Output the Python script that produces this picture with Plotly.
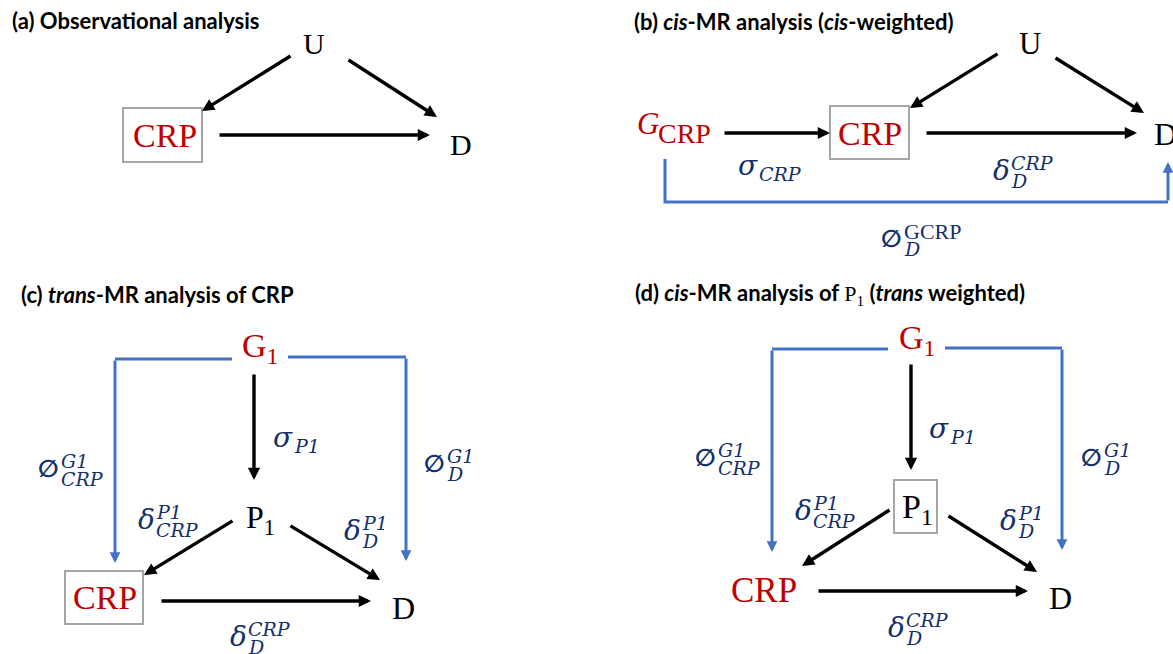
import plotly.graph_objects as go

W, H = 1173, 654

# ---------------- text content ----------------
panel_titles = [
    "<b>(a) Observational analysis</b>",
    "<b>(b) <i>cis</i>-MR analysis (<i>cis</i>-weighted)</b>",
    "<b>(c) <i>trans</i>-MR analysis of CRP</b>",
    '<b>(d) <i>cis</i>-MR analysis of </b><span style="font-family:Liberation Serif">P<sub>1</sub></span><b> (<i>trans</i> weighted)</b>',
]

# node labels for each panel: (label, is_exposure)
nodes_a = [("U", False), ("CRP", True), ("D", False)]
nodes_b = [("U", False), ("CRP", True), ("D", False)]
nodes_c = [("G<sub>1</sub>", True), ("P<sub>1</sub>", False), ("CRP", True), ("D", False)]
nodes_d = [("G<sub>1</sub>", True), ("P<sub>1</sub>", False), ("CRP", True), ("D", False)]
instrument_b = ("G", "CRP")   # italic G with upright subscript

# path-coefficient labels: (symbol, superscript, subscript)
coef_b = [("σ", None, "CRP"), ("δ", "CRP", "D"), ("∅", "GCRP", "D")]
coef_c = [("σ", None, "P1"), ("∅", "G1", "CRP"), ("∅", "G1", "D"),
          ("δ", "P1", "CRP"), ("δ", "P1", "D"), ("δ", "CRP", "D")]
coef_d = [("σ", None, "P1"), ("∅", "G1", "CRP"), ("∅", "G1", "D"),
          ("δ", "P1", "CRP"), ("δ", "P1", "D"), ("δ", "CRP", "D")]
upright_scripts = {"GCRP"}

# ---------------- layout geometry (pixels) ----------------
RED, NAVY, BLUE, GREY = "#C00000", "#152F6B", "#4472C4", "#A6A6A6"
SERIF, SANS, MATH = "Liberation Serif", "Lato", "DejaVu Serif"

title_pos = [(10, 20), (632, 21), (19, 294), (633, 294)]

node_pos_a = [(314, 43, 30), (165, 135, 34), (461, 144, 30)]
node_pos_b = [(1030, 43, 31), (870, 133, 34), (1165, 134, 32)]
node_pos_c = [(260, 348, 34), (260, 519, 32), (105, 597, 34), (403, 608, 32)]
node_pos_d = [(917, 340, 34), (917, 509, 34), (764, 590, 35), (1060, 598, 32)]
instrument_b_pos = ((648, 123, 31), (684, 133, 28))

boxes = [(123, 108, 202, 162), (830, 106, 909, 159), (65, 571, 143, 624), (894, 480, 937, 533)]

black_arrows = [
    ((292, 55), (202, 111)), ((347, 59), (437, 117)), ((218, 135), (430, 135)),
    ((723, 133), (830, 133)), ((999, 53), (910, 108)), ((1054, 57), (1144, 113)), ((925, 133), (1137, 133)),
    ((254, 373), (254, 480)), ((234, 520), (144, 575)), ((289, 525), (380, 580)), ((160, 601), (371, 601)),
    ((911, 363), (911, 470)), ((891, 509), (802, 566)), ((947, 515), (1037, 572)), ((817, 591), (1028, 591)),
]
blue_paths = [
    [(665, 159), (665, 202), (1168, 202), (1168, 162)],
    [(232, 359), (115, 359), (115, 563)],
    [(288, 357), (406, 357), (406, 561)],
    [(888, 349), (772, 349), (772, 552)],
    [(945, 348), (1062, 348), (1062, 550)],
]

# (junction x, baseline y) for each coefficient label
coef_pos_b = [(758, 175), (1010, 180), (903, 248)]
coef_pos_c = [(293, 447), (60, 478), (446, 473), (155, 529), (361, 540), (247, 646)]
coef_pos_d = [(949, 438), (717, 467), (1103, 467), (812, 520), (1017, 530), (905, 637)]

MAIN_SIZE, SCRIPT_SIZE, EMPTY_SIZE = 28, 19, 24

# ---------------- build figure ----------------
fig = go.Figure()
ann = []
shapes = []


def text(x, y, s, size, color="black", family=SERIF, xanchor="center"):
    ann.append(dict(x=x, y=y, xref="x", yref="y", text=s, showarrow=False,
                    xanchor=xanchor, yanchor="middle",
                    font=dict(family=family, size=size, color=color)))


for t, (x, y) in zip(panel_titles, title_pos):
    text(x, y, t, 22, family=SANS, xanchor="left")

for nodes, pos in [(nodes_a, node_pos_a), (nodes_b, node_pos_b), (nodes_c, node_pos_c), (nodes_d, node_pos_d)]:
    for (lab, red), (x, y, sz) in zip(nodes, pos):
        text(x, y, lab, sz, RED if red else "black")

(gx, gy, gs), (sx, sy, ss) = instrument_b_pos
text(gx, gy, "<i>" + instrument_b[0] + "</i>", gs, RED)
text(sx, sy, instrument_b[1], ss, RED)

for x0, y0, x1, y1 in boxes:
    shapes.append(dict(type="rect", xref="x", yref="y", x0=x0, y0=y0, x1=x1, y1=y1,
                       line=dict(color=GREY, width=2), fillcolor="rgba(0,0,0,0)", layer="below"))


def coef(jx, base, sym, sup, sub):
    if sym == "∅":
        text(jx + 1, base - 0.36 * EMPTY_SIZE, "<b>" + sym + "</b>", EMPTY_SIZE, NAVY,
             family="DejaVu Sans", xanchor="right")
    else:
        text(jx + 2, base - 0.35 * MAIN_SIZE, "<i>" + sym + "</i>", MAIN_SIZE, NAVY, family=MATH, xanchor="right")
    if sup is not None:
        s = sup if sup in upright_scripts else "<i>" + sup + "</i>"
        fam = SERIF if sup in upright_scripts else MATH
        sz = SCRIPT_SIZE + 3 if sup in upright_scripts else SCRIPT_SIZE
        text(jx - 1, base - 17, s, sz, NAVY, family=fam, xanchor="left")
        text(jx - 1, base + 1, "<i>" + sub + "</i>", SCRIPT_SIZE, NAVY, family=MATH, xanchor="left")
    else:
        text(jx - 1, base - 1, "<i>" + sub + "</i>", SCRIPT_SIZE, NAVY, family=MATH, xanchor="left")


for labs, pos in [(coef_b, coef_pos_b), (coef_c, coef_pos_c), (coef_d, coef_pos_d)]:
    for (sym, sup, sub), (jx, base) in zip(labs, pos):
        coef(jx, base, sym, sup, sub)


def arrow(tail, tip, color, width, size):
    ann.append(dict(x=tip[0], y=tip[1], ax=tail[0], ay=tail[1], xref="x", yref="y",
                    axref="x", ayref="y", text="", showarrow=True, arrowhead=2,
                    arrowsize=size, arrowwidth=width, arrowcolor=color, standoff=0))


for tail, tip in black_arrows:
    arrow(tail, tip, "black", 3.4, 0.72)

for pts in blue_paths:
    d = "M " + " L ".join(f"{x},{y}" for x, y in pts[:-1])
    shapes.append(dict(type="path", xref="x", yref="y", path=d,
                       line=dict(color=BLUE, width=3)))
    arrow(pts[-2], pts[-1], BLUE, 3, 0.72)

fig.update_layout(
    width=W, height=H, margin=dict(l=0, r=0, t=0, b=0),
    paper_bgcolor="white", plot_bgcolor="white",
    xaxis=dict(range=[0, W], visible=False, fixedrange=True),
    yaxis=dict(range=[H, 0], visible=False, fixedrange=True),
    annotations=ann, shapes=shapes, showlegend=False,
)
# remove the page's default 8px body margin so the figure fills the window exactly
fig.write_html("out.html", config={"displayModeBar": False},
               post_script="document.body.style.margin='0px';document.body.style.overflow='hidden';")
